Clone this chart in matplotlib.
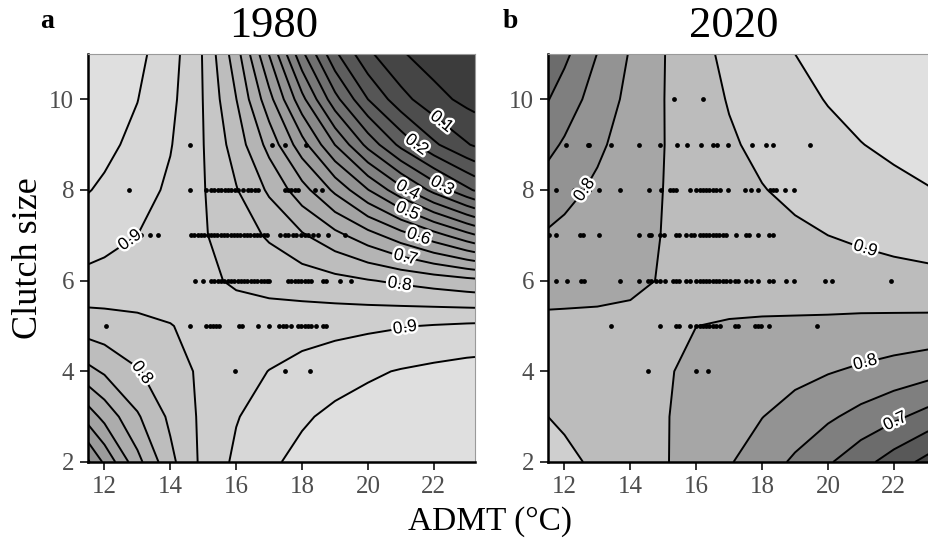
import numpy as np
import matplotlib.pyplot as plt
import matplotlib.patheffects as pe

plt.rcParams['font.family'] = ['Liberation Serif', 'DejaVu Serif']

## grid of the fitted surface (rows = clutch size, columns = ADMT)
admt_grid = [11.5, 12, 13, 14, 15, 16, 17, 18, 19, 20, 21, 22, 23, 23.25]
clutch_grid = [2, 3, 4, 5, 6, 7, 8, 9, 10, 11]

prob_1980 = [
    [0.493, 0.559, 0.684, 0.787, 0.863, 0.910, 0.942, 0.963, 0.976, 0.985, 0.991, 0.994, 0.996, 0.997],
    [0.622, 0.666, 0.744, 0.810, 0.861, 0.897, 0.924, 0.944, 0.960, 0.971, 0.979, 0.985, 0.989, 0.990],
    [0.736, 0.757, 0.796, 0.830, 0.859, 0.882, 0.901, 0.917, 0.931, 0.943, 0.953, 0.961, 0.968, 0.969],
    [0.825, 0.830, 0.840, 0.849, 0.858, 0.865, 0.872, 0.879, 0.885, 0.891, 0.897, 0.903, 0.908, 0.909],
    [0.886, 0.882, 0.874, 0.865, 0.856, 0.846, 0.836, 0.826, 0.815, 0.803, 0.791, 0.778, 0.765, 0.762],
    [0.925, 0.917, 0.900, 0.879, 0.854, 0.826, 0.793, 0.756, 0.715, 0.670, 0.621, 0.570, 0.517, 0.504],
    [0.952, 0.943, 0.921, 0.891, 0.853, 0.803, 0.742, 0.670, 0.589, 0.502, 0.416, 0.334, 0.261, 0.245],
    [0.969, 0.961, 0.938, 0.903, 0.851, 0.778, 0.683, 0.570, 0.449, 0.334, 0.236, 0.159, 0.104, 0.094],
    [0.980, 0.973, 0.951, 0.913, 0.849, 0.751, 0.618, 0.465, 0.317, 0.200, 0.118, 0.067, 0.037, 0.032],
    [0.988, 0.982, 0.962, 0.922, 0.847, 0.722, 0.548, 0.362, 0.210, 0.110, 0.055, 0.026, 0.013, 0.010],
]

prob_2020 = [
    [0.916, 0.909, 0.893, 0.875, 0.854, 0.831, 0.804, 0.774, 0.742, 0.706, 0.668, 0.627, 0.585, 0.574],
    [0.900, 0.894, 0.882, 0.868, 0.853, 0.837, 0.820, 0.801, 0.780, 0.758, 0.734, 0.710, 0.683, 0.677],
    [0.881, 0.877, 0.870, 0.861, 0.853, 0.844, 0.834, 0.824, 0.814, 0.803, 0.792, 0.780, 0.768, 0.765],
    [0.859, 0.858, 0.856, 0.854, 0.852, 0.8501, 0.848, 0.846, 0.844, 0.842, 0.839, 0.837, 0.835, 0.834],
    [0.834, 0.837, 0.842, 0.847, 0.851, 0.856, 0.861, 0.865, 0.870, 0.874, 0.878, 0.882, 0.886, 0.887],
    [0.805, 0.812, 0.826, 0.839, 0.851, 0.862, 0.873, 0.882, 0.892, 0.900, 0.908, 0.916, 0.922, 0.924],
    [0.773, 0.786, 0.809, 0.831, 0.8502, 0.868, 0.884, 0.898, 0.910, 0.922, 0.932, 0.940, 0.948, 0.950],
    [0.737, 0.756, 0.791, 0.822, 0.849, 0.873, 0.894, 0.911, 0.926, 0.939, 0.949, 0.958, 0.965, 0.967],
    [0.698, 0.724, 0.772, 0.813, 0.849, 0.878, 0.903, 0.923, 0.939, 0.952, 0.963, 0.971, 0.977, 0.979],
    [0.655, 0.689, 0.751, 0.804, 0.848, 0.884, 0.912, 0.934, 0.950, 0.963, 0.973, 0.980, 0.985, 0.986],
]

## nests: ADMT of each nest, one list per clutch size
n1980_c4 = [15.95, 17.47, 18.25]
n1980_c5 = [12.05, 14.61, 15.09, 15.19, 15.29, 15.39, 15.49, 16.08, 16.18, 16.66, 16.99, 17.30,
            17.42, 17.52, 17.67, 17.88, 17.98, 18.08, 18.18, 18.28, 18.43, 18.64, 18.74]
n1980_c6 = [14.74, 14.99, 15.24, 15.34, 15.44, 15.54, 15.64, 15.74, 15.84, 15.94, 16.04, 16.14,
            16.24, 16.34, 16.44, 16.54, 16.64, 16.74, 16.84, 16.94, 17.01, 17.57, 17.67, 17.78,
            17.88, 17.98, 18.08, 18.18, 18.28, 18.64, 18.74, 19.14, 19.50]
n1980_c7 = [13.11, 13.37, 13.62, 14.63, 14.73, 14.83, 14.93, 15.03, 15.13, 15.23, 15.33, 15.43,
            15.53, 15.63, 15.73, 15.83, 15.93, 16.03, 16.13, 16.23, 16.33, 16.43, 16.53, 16.63,
            16.73, 16.83, 16.93, 17.32, 17.47, 17.57, 17.72, 17.83, 17.98, 18.08, 18.18, 18.33,
            18.48, 18.79, 19.29]
n1980_c8 = [12.76, 14.61, 15.09, 15.24, 15.34, 15.44, 15.55, 15.65, 15.75, 15.85, 15.95, 16.05,
            16.20, 16.36, 16.46, 16.56, 16.66, 17.47, 17.57, 17.67, 17.78, 17.88, 18.38, 18.59]
n1980_c9 = [14.61, 17.10, 17.47, 18.13]

n2020_c4 = [14.53, 16.00, 16.36]
n2020_c5 = [13.42, 14.91, 15.39, 15.49, 15.80, 16.00, 16.10, 16.20, 16.30, 16.40, 16.50, 16.60,
            16.71, 17.17, 17.27, 17.78, 17.88, 17.98, 18.21, 19.68]
n2020_c6 = [11.75, 12.07, 12.51, 12.59, 13.70, 14.26, 14.53, 14.63, 14.79, 14.89, 15.04, 15.29,
            15.39, 15.49, 15.70, 15.80, 16.00, 16.10, 16.20, 16.30, 16.40, 16.50, 16.60, 16.70,
            16.80, 16.90, 17.02, 17.17, 17.27, 17.52, 17.67, 17.88, 18.21, 18.33, 18.72, 18.96,
            19.92, 20.12, 21.91]
n2020_c7 = [11.54, 11.75, 12.46, 12.56, 13.06, 14.26, 14.58, 14.63, 14.89, 15.01, 15.39, 15.49,
            15.70, 15.85, 15.92, 16.10, 16.20, 16.30, 16.40, 16.50, 16.60, 16.70, 16.80, 16.91,
            17.22, 17.50, 17.60, 17.88, 18.21, 18.33]
n2020_c8 = [11.75, 12.30, 12.46, 12.76, 13.04, 13.70, 14.56, 14.92, 15.19, 15.29, 15.39, 15.80,
            16.00, 16.10, 16.20, 16.30, 16.40, 16.50, 16.60, 16.71, 16.98, 17.49, 17.67, 17.88,
            18.23, 18.33, 18.43, 18.69, 18.96]
n2020_c9 = [12.05, 12.71, 12.76, 13.40, 14.26, 14.91, 15.41, 15.72, 16.14, 16.51, 16.63, 16.96,
            17.69, 18.13, 18.33, 19.45]
n2020_c10 = [15.34, 16.20]

levels = [i / 20 for i in range(21)]


def grey_list(values):
    return [str(v / 255) for v in values]


def plot_panel(ax, z, greys, labels, nests):
    X, Y = np.meshgrid(admt_grid, clutch_grid)
    Z = np.array(z)
    ax.contourf(X, Y, Z, levels=levels, colors=grey_list(greys))
    ax.contour(X, Y, Z, levels=levels[1:-1], colors='black', linewidths=1.4)
    for c, xs in nests:
        ax.scatter(xs, [c] * len(xs), s=12, color='black', linewidths=0, zorder=3)
    # one hidden contour per labelled level, label placed near the given spot
    for lev, pos in labels:
        cl = ax.contour(X, Y, Z, levels=[lev], colors='none', linewidths=0)
        labs = ax.clabel(cl, manual=[pos], inline=False, fmt='%.1f', fontsize=12.5,
                         colors='black')
        for t in labs:
            t.set_fontfamily('Liberation Sans')
            t.set_path_effects([pe.withStroke(linewidth=3.5, foreground='white')])
            t.set_zorder(5)
    ax.set_xlim(11.5, 23.25)
    ax.set_ylim(2, 11)
    ax.set_xticks([12, 14, 16, 18, 20, 22])
    ax.set_yticks([2, 4, 6, 8, 10])
    ax.tick_params(labelsize=18, length=6, width=1.4, colors='#333333',
                   labelcolor='#4d4d4d', pad=4)
    for s in ['left', 'bottom']:
        ax.spines[s].set_linewidth(1.8)
        ax.spines[s].set_color('black')
    for s in ['top', 'right']:
        ax.spines[s].set_linewidth(0.8)
        ax.spines[s].set_color('#9a9a9a')


fig = plt.figure(figsize=(9.29, 5.48), dpi=100)
ax1 = fig.add_axes([88 / 929, 86 / 548, 387 / 929, 408 / 548])
ax2 = fig.add_axes([548 / 929, 86 / 548, 387 / 929, 408 / 548])

# band greys, light = high success
greys_1980 = [60 + i * 8.6 for i in range(20)]
greys_2020 = [0] * 11 + [69, 88, 108, 127, 147, 166, 188, 207, 224]

plot_panel(ax1, prob_1980, greys_1980,
           [(0.1, (22.12, 9.40)), (0.2, (21.36, 8.86)), (0.3, (22.18, 8.0)),
            (0.4, (21.12, 7.87)), (0.5, (21.12, 7.39)), (0.6, (21.51, 6.91)),
            (0.7, (21.12, 6.45)), (0.8, (20.97, 5.97)), (0.9, (21.12, 4.99)),
            (0.9, (12.76, 6.91)), (0.8, (13.06, 3.94))],
           [(4, n1980_c4), (5, n1980_c5), (6, n1980_c6), (7, n1980_c7), (8, n1980_c8), (9, n1980_c9)])
plot_panel(ax2, prob_2020, greys_2020,
           [(0.8, (12.71, 7.94)), (0.9, (21.12, 6.67)), (0.8, (21.12, 4.23)), (0.7, (22.03, 2.92))],
           [(4, n2020_c4), (5, n2020_c5), (6, n2020_c6), (7, n2020_c7), (8, n2020_c8),
            (9, n2020_c9), (10, n2020_c10)])

fig.text(274 / 929, 1 - 37 / 548, '1980', ha='center', va='baseline', fontsize=32)
fig.text(734 / 929, 1 - 37 / 548, '2020', ha='center', va='baseline', fontsize=32)
fig.text(40 / 929, 1 - 28 / 548, 'a', ha='left', va='baseline', fontsize=20, fontweight='bold')
fig.text(503 / 929, 1 - 28 / 548, 'b', ha='left', va='baseline', fontsize=20, fontweight='bold')
fig.text(29 / 929, 1 - 258 / 548, 'Clutch size', rotation=90, ha='center', va='center', fontsize=26)
fig.text(490 / 929, 1 - 522 / 548, 'ADMT (°C)', ha='center', va='center', fontsize=24)

plt.savefig('out.png', dpi=100)
